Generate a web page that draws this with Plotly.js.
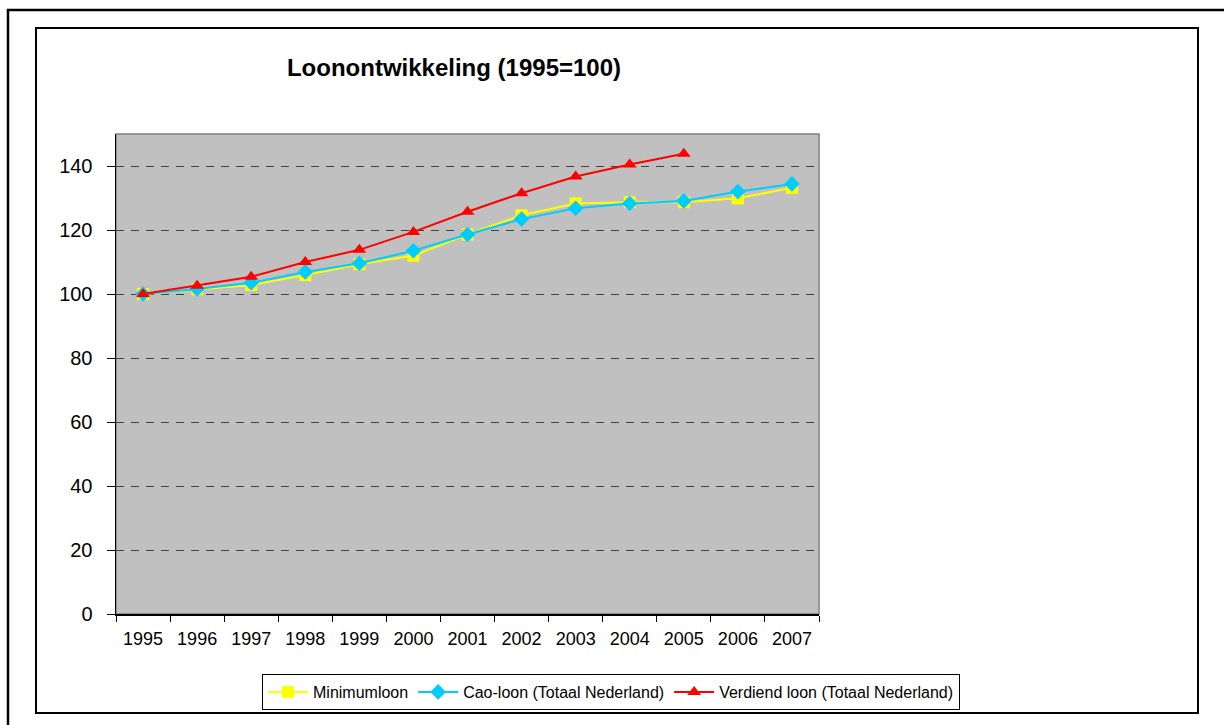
<!DOCTYPE html>
<html>
<head>
<meta charset="utf-8">
<script src="https://cdn.plot.ly/plotly-3.0.1.min.js"></script>
<style>
html,body{margin:0;padding:0;background:#fff;}
#chart{width:1224px;height:725px;}
</style>
</head>
<body>
<div id="chart"></div>
<script>
const years = ["1995","1996","1997","1998","1999","2000","2001","2002","2003","2004","2005","2006","2007"];
const minimumloon = [100, 101.5, 102.8, 105.9, 109.3, 112.0, 118.6, 124.6, 128.3, 128.7, 128.7, 129.9, 133.2];
const caoLoon = [100, 101.6, 103.5, 106.9, 109.6, 113.5, 118.6, 123.4, 126.8, 128.3, 129.1, 132.0, 134.4];
const verdiendLoon = [100, 102.6, 105.4, 110.0, 113.8, 119.4, 125.7, 131.5, 136.7, 140.5, 143.8, null, null];
const yTicks = [0, 20, 40, 60, 80, 100, 120, 140];

const seriesNames = ["Minimumloon", "Cao-loon (Totaal Nederland)", "Verdiend loon (Totaal Nederland)"];

const traces = [
  {x: years, y: minimumloon, name: seriesNames[0], type: "scatter", mode: "lines+markers",
   line: {color: "#FFFF00", width: 2}, marker: {symbol: "square", size: 12, color: "#FFFF00"}},
  {x: years, y: caoLoon, name: seriesNames[1], type: "scatter", mode: "lines+markers",
   line: {color: "#00CCFF", width: 2}, marker: {symbol: "diamond", size: 12, color: "#00CCFF"}},
  {x: years, y: verdiendLoon, name: seriesNames[2], type: "scatter", mode: "lines+markers",
   line: {color: "#FF0000", width: 2}, marker: {symbol: "triangle-up", size: 12, color: "#FF0000"}}
];

const L = 116, R = 819, T = 134, B = 614;
const px = v => (v - L) / (R - L);
const py = v => (B - v) / (B - T);

const layout = {
  width: 1224, height: 725,
  margin: {l: L, r: 1224 - R, t: T, b: 725 - B, pad: 0},
  paper_bgcolor: "#FFFFFF",
  plot_bgcolor: "#C0C0C0",
  font: {family: "Liberation Sans, Arial, sans-serif", color: "#000"},
  title: {text: "<b>Loonontwikkeling (1995=100)</b>", font: {size: 24, color: "#000"},
          x: 454 / 1224, xanchor: "center", y: 1 - 68 / 725, yanchor: "middle"},
  showlegend: true,
  legend: {orientation: "h", x: px(611), xanchor: "center", y: py(674), yanchor: "top",
           bordercolor: "#000", borderwidth: 1, bgcolor: "#fff", itemwidth: 40,
           font: {size: 16, color: "#000"}, traceorder: "normal"},
  xaxis: {type: "category", range: [-0.5, 12.5], tickson: "boundaries",
          ticks: "outside", ticklen: 6, tickcolor: "#000", tickwidth: 1,
          showline: true, linecolor: "#000", linewidth: 1.5, showgrid: false,
          ticklabelstandoff: 8,
          tickfont: {size: 18}, fixedrange: true},
  yaxis: {range: [0, 150], tickvals: yTicks, ticks: "outside", ticklen: 8, tickcolor: "#000",
          showline: true, linecolor: "#000", linewidth: 1.5, zeroline: false,
          showgrid: true, gridcolor: "#404040", griddash: "8px,7px", gridwidth: 1,
          ticklabelstandoff: 10,
          tickfont: {size: 20}, fixedrange: true},
  shapes: [
    {type: "rect", xref: "paper", yref: "paper", x0: 0, x1: 1, y0: 0, y1: 1,
     line: {color: "#808080", width: 1.5}, layer: "below"},
    {type: "rect", xref: "paper", yref: "paper", x0: px(36), x1: px(1198), y0: py(713), y1: py(28),
     line: {color: "#000", width: 2}},
    {type: "rect", xref: "paper", yref: "paper", x0: px(8), x1: px(1240), y0: py(740), y1: py(10),
     line: {color: "#000", width: 2.5}}
  ]
};

Plotly.newPlot("chart", traces, layout, {displayModeBar: false, staticPlot: true});
</script>
</body>
</html>
